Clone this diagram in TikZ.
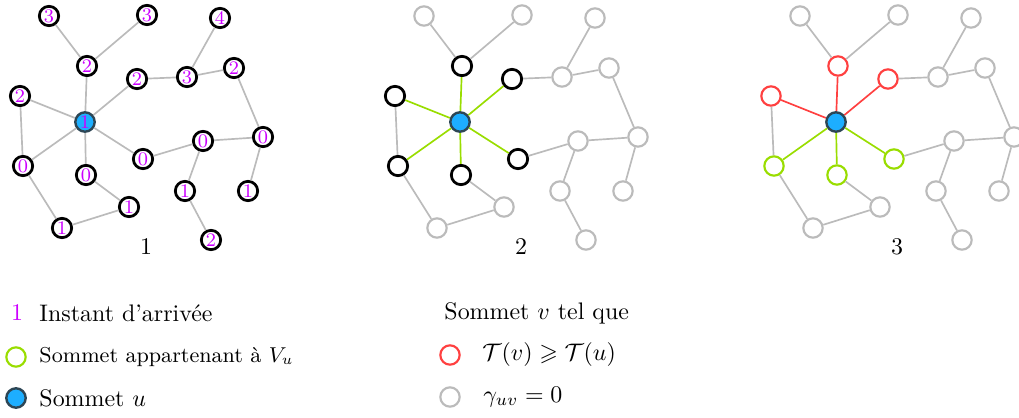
\documentclass[tikz,border=0pt]{standalone}
\usepackage{amsmath, amssymb}
\usepackage{tikz}

\definecolor{arrival}{RGB}{204,0,255}
\definecolor{ublue}{RGB}{29,174,255}
\definecolor{uborder}{RGB}{45,70,85}
\definecolor{vlime}{RGB}{153,221,0}
\definecolor{vred}{RGB}{255,64,64}
\definecolor{vgray}{RGB}{187,187,187}

% positions (name/x/y/arrival time)
\newcommand{\farlist}{A/49/16/3, B/147/15/3, C/220/18/4, F/187/77/3, G/234/68/2, L/203/141/0, M/263/137/0, N/129/207/1, O/62/228/1, P/185/191/1, Q/248/191/1, R/211/240/2}
\newcommand{\uplist}{D/87/66/2, E/137/79/2, H/20/96/2}
\newcommand{\lowlist}{I/23/166/0, J/86/175/0, K/143/159/0}
\newcommand{\faredges}{A/D, B/D, E/F, C/F, F/G, G/M, H/I, I/O, O/N, N/J, K/L, L/M, L/P, P/R, M/Q}

\begin{document}
\begin{tikzpicture}[x=0.418pt, y=-0.418pt,
    vtx/.style={circle, draw=black, line width=1.15pt, fill=white, minimum size=8.1pt, inner sep=0pt, font=\footnotesize, text=arrival},
    gvtx/.style={vtx, draw=vgray, line width=0.9pt},
    rvtx/.style={vtx, draw=vred, line width=0.9pt},
    lvtx/.style={vtx, draw=vlime, line width=0.9pt},
    uvtx/.style={vtx, fill=ublue, draw=uborder, line width=1pt},
    gedge/.style={vgray, line width=0.7pt},
    ledge/.style={vlime, line width=0.7pt},
    redge/.style={vred, line width=0.7pt},
    keytext/.style={anchor=west, inner sep=0pt}]
    \useasboundingbox (0,0) rectangle (1019,418);

    % Graph 1: arrival times
    \begin{scope}
        \node[uvtx] (aU) at (85,122) {1};
        \foreach \n/\x/\y/\lbl in \farlist {\node[vtx] (a\n) at (\x,\y) {\lbl};}
        \foreach \n/\x/\y/\lbl in \uplist {\node[vtx] (a\n) at (\x,\y) {\lbl};}
        \foreach \n/\x/\y/\lbl in \lowlist {\node[vtx] (a\n) at (\x,\y) {\lbl};}
        \foreach \va/\vb in \faredges {\draw[gedge] (a\va) -- (a\vb);}
        \foreach \n in {D,E,H,I,J,K} {\draw[gedge] (aU) -- (a\n);}
        \node (alabel) at (146,247) {1};
    \end{scope}

    % Graph 2: neighbours of u
    \begin{scope}[shift={(375,0)}]
        \node[uvtx] (bU) at (85,122) {};
        \foreach \n/\x/\y/\lbl in \farlist {\node[gvtx] (b\n) at (\x,\y) {};}
        \foreach \n/\x/\y/\lbl in \uplist {\node[vtx] (b\n) at (\x,\y) {};}
        \foreach \n/\x/\y/\lbl in \lowlist {\node[vtx] (b\n) at (\x,\y) {};}
        \foreach \va/\vb in \faredges {\draw[gedge] (b\va) -- (b\vb);}
        \foreach \n in {D,E,H,I,J,K} {\draw[ledge] (bU) -- (b\n);}
        \node (blabel) at (146,247) {2};
    \end{scope}

    % Graph 3: V_u
    \begin{scope}[shift={(751,0)}]
        \node[uvtx] (cU) at (85,122) {};
        \foreach \n/\x/\y/\lbl in \farlist {\node[gvtx] (c\n) at (\x,\y) {};}
        \foreach \n/\x/\y/\lbl in \uplist {\node[rvtx] (c\n) at (\x,\y) {};}
        \foreach \n/\x/\y/\lbl in \lowlist {\node[lvtx] (c\n) at (\x,\y) {};}
        \foreach \va/\vb in \faredges {\draw[gedge] (c\va) -- (c\vb);}
        \foreach \n in {D,E,H} {\draw[redge] (cU) -- (c\n);}
        \foreach \n in {I,J,K} {\draw[ledge] (cU) -- (c\n);}
        \node (clabel) at (146,247) {3};
    \end{scope}

    % Legend
    \node[text=arrival] (key1) at (17,313) {1};
    \node[keytext] (keytxt1) at (39,313) {Instant d'arrivée};
    \node[lvtx] (key2) at (16,357) {};
    \node[keytext, font=\small] (keytxt2) at (39,357) {Sommet appartenant à $V_u$};
    \node[uvtx] (key3) at (16,398) {};
    \node[keytext] (keytxt3) at (39,398) {Sommet $u$};

    \node[keytext] (keytxt4) at (444,313) {Sommet $v$ tel que};
    \node[rvtx] (key4) at (450,355) {};
    \node[keytext] (keytxt5) at (482,355) {$\mathcal{T}(v) \geqslant \mathcal{T}(u)$};
    \node[gvtx] (key5) at (450,397) {};
    \node[keytext] (keytxt6) at (483,397) {$\gamma_{uv} = 0$};
\end{tikzpicture}
\end{document}
